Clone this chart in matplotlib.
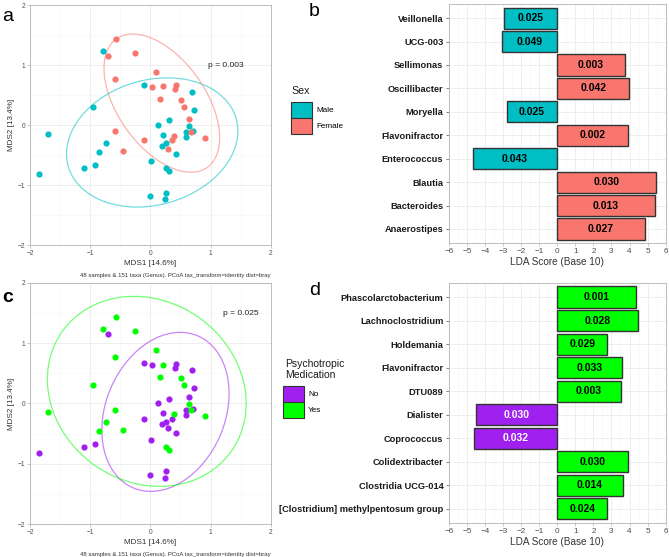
#%%
#PCoA ordination (bray) with group ellipses and LEfSe-style LDA bar charts
#panel a/b: Sex, panel c/d: Psychotropic Medication

import numpy as np
import matplotlib
matplotlib.use('Agg')
import matplotlib.pyplot as plt
from matplotlib.patches import Patch, Ellipse

#sample coordinates on MDS1 / MDS2
mds1 = [-0.79, -0.105, 0.687, -0.953, 0.731, 0.316, 0.122, 0.637, -1.706, 0.598,
        0.715, 0.598, 0.205, -0.742, 0.255, 0.194, -0.859, 0.421, 0.006, -0.925,
        -1.097, 0.255, 0.316, -1.845, -0.011, 0.255, 0.249,
        -0.576, -0.26, -0.698, 0.089, -0.593, 0.028, 0.216, 0.421, 0.416, 0.161,
        0.515, 0.560, 0.643, -0.593, 0.676, 0.914, 0.399, 0.355, -0.111, -0.454, 0.299]
mds2 = [1.235, 0.665, 0.554, 0.30, 0.255, 0.078, 0.0, -0.017, -0.144, -0.11,
        -0.094, -0.194, -0.166, -0.305, -0.305, -0.349, -0.449, -0.488, -0.604, -0.670,
        -0.720, -0.720, -0.765, -0.814, -1.186, -1.125, -1.235,
        1.435, 1.208, 1.147, 0.881, 0.770, 0.632, 0.643, 0.659, 0.593, 0.438,
        0.416, 0.305, 0.100, -0.105, -0.11, -0.216, -0.183, -0.25, -0.25, -0.438, -0.404]
sex = ['Male'] * 27 + ['Female'] * 21
medication = ['Yes', 'No', 'No', 'Yes', 'No', 'No', 'No', 'Yes', 'Yes', 'No',
              'No', 'No', 'No', 'Yes', 'No', 'No', 'Yes', 'No', 'No', 'No',
              'No', 'Yes', 'Yes', 'No', 'No', 'No', 'No',
              'Yes', 'Yes', 'No', 'Yes', 'Yes', 'No', 'Yes', 'No', 'No', 'Yes',
              'Yes', 'Yes', 'No', 'Yes', 'Yes', 'Yes', 'Yes', 'No', 'No', 'Yes', 'No']

#95% group ellipses: center x, center y, semi-major, semi-minor, angle (deg)
sexEllipses = {'Male': (0.03, -0.29, 1.45, 1.04, 16), 'Female': (0.19, 0.365, 1.31, 0.73, -55)}
medEllipses = {'No': (0.25, -0.14, 1.37, 0.99, 67), 'Yes': (-0.06, 0.20, 1.72, 1.50, -35)}

#LDA results, top to bottom
sexTaxa = ['Veillonella', 'UCG-003', 'Sellimonas', 'Oscillibacter', 'Moryella',
           'Flavonifractor', 'Enterococcus', 'Blautia', 'Bacteroides', 'Anaerostipes']
sexLDA = [-2.94, -3.05, 3.73, 3.97, -2.81, 3.89, -4.69, 5.48, 5.39, 4.84]
sexP = ['0.025', '0.049', '0.003', '0.042', '0.025', '0.002', '0.043', '0.030', '0.013', '0.027']

medTaxa = ['Phascolarctobacterium', 'Lachnoclostridium', 'Holdemania', 'Flavonifractor', 'DTU089',
           'Dialister', 'Coprococcus', 'Colidextribacter', 'Clostridia UCG-014',
           '[Clostridium] methylpentosum group']
medLDA = [4.37, 4.47, 2.77, 3.56, 3.51, -4.49, -4.60, 3.91, 3.62, 2.77]
medP = ['0.001', '0.028', '0.029', '0.033', '0.003', '0.030', '0.032', '0.030', '0.014', '0.024']

sexColors = {'Male': '#00BFC4', 'Female': '#F8766D'}
medColors = {'No': '#A020F0', 'Yes': '#00FF00'}

caption = '48 samples & 151 taxa (Genus). PCoA tax_transform=identity dist=bray'


def main():
    plt.rcParams['font.family'] = ['Liberation Sans', 'DejaVu Sans']
    fig = plt.figure(figsize=(6.69, 5.57), dpi=100)

    axA = fig.add_axes([0.0448, 0.560, 0.360, 0.431])
    axC = fig.add_axes([0.0448, 0.0592, 0.360, 0.433])
    axB = fig.add_axes([0.671, 0.5637, 0.324, 0.429])
    axD = fig.add_axes([0.671, 0.061, 0.324, 0.431])

    _ordination(axA, sex, sexColors, sexEllipses, ['Male', 'Female'], 'p = 0.003', (0.96, 1.0))
    _ordination(axC, medication, medColors, medEllipses, ['No', 'Yes'], 'p = 0.025', (1.2, 1.49))
    _ldabars(axB, sexTaxa, sexLDA, sexP, [sexColors['Male'] if v < 0 else sexColors['Female'] for v in sexLDA], 'black')
    _ldabars(axD, medTaxa, medLDA, medP, [medColors['No'] if v < 0 else medColors['Yes'] for v in medLDA], None)

    #legends (titles as separate text so the gap to the keys matches)
    fig.text(0.435, 0.8366, 'Sex', fontsize=7.7, va='center', ha='left', color='#1A1A1A')
    hs = [Patch(facecolor=sexColors[k], edgecolor='#333333', linewidth=0.8) for k in ['Male', 'Female']]
    fig.legend(hs, ['Male', 'Female'], loc='upper left', bbox_to_anchor=(0.435, 0.8169),
               frameon=False, fontsize=5.9, handlelength=2.6, handleheight=2.6,
               labelspacing=0.0, handletextpad=0.45, borderaxespad=0, borderpad=0)
    fig.text(0.426, 0.3366, 'Psychotropic\nMedication', fontsize=7.5, va='center', ha='left',
             color='#1A1A1A', linespacing=1.1)
    hm = [Patch(facecolor=medColors[k], edgecolor='#333333', linewidth=0.8) for k in ['No', 'Yes']]
    fig.legend(hm, ['No', 'Yes'], loc='upper left', bbox_to_anchor=(0.423, 0.307),
               frameon=False, fontsize=5.9, handlelength=2.6, handleheight=2.6,
               labelspacing=0.0, handletextpad=0.45, borderaxespad=0, borderpad=0)

    #panel letters
    fig.text(0.003, 0.985, 'a', fontsize=14, va='top')
    fig.text(0.462, 0.995, 'b', fontsize=14, va='top')
    fig.text(0.003, 0.482, 'c', fontsize=14, va='top', fontweight='bold')
    fig.text(0.462, 0.493, 'd', fontsize=14, va='top')

    fig.savefig('out.png', dpi=100)


def _ordination(ax, groups, colors, ellipses, order, ptext, ppos):
    x = np.array(mds1)
    y = np.array(mds2)
    g = np.array(groups)
    for k in order:
        m = g == k
        ax.scatter(x[m], y[m], s=20, color=colors[k], linewidths=0, zorder=3)
    for k in order:
        cx, cy, a, b, ang = ellipses[k]
        ax.add_patch(Ellipse((cx, cy), 2 * a, 2 * b, angle=ang, fill=False,
                             edgecolor=colors[k], linewidth=0.9, alpha=0.55, zorder=2))
    ax.text(ppos[0], ppos[1], ptext, fontsize=6, va='center', ha='left', color='#222222')
    ax.set_xlim(-2, 2)
    ax.set_ylim(-2, 2)
    ax.set_xticks([-2, -1, 0, 1, 2])
    ax.set_yticks([-2, -1, 0, 1, 2])
    ax.set_xticks([-1.5, -0.5, 0.5, 1.5], minor=True)
    ax.set_yticks([-1.5, -0.5, 0.5, 1.5], minor=True)
    ax.grid(which='major', color='#EBEBEB', linewidth=0.6, zorder=0)
    ax.grid(which='minor', color='#F5F5F5', linewidth=0.4, zorder=0)
    ax.set_axisbelow(True)
    ax.tick_params(which='major', labelsize=4.8, labelcolor='#4D4D4D', color='#B3B3B3', length=2, width=0.5, pad=1.5)
    ax.tick_params(which='minor', length=0)
    for s in ax.spines.values():
        s.set_color('#B3B3B3')
        s.set_linewidth(0.6)
    ax.set_xlabel('MDS1 [14.6%]', fontsize=5.9, color='#333333', labelpad=2)
    ax.set_ylabel('MDS2 [13.4%]', fontsize=5.9, color='#333333', labelpad=2)
    ax.text(1.0, -0.115, caption, transform=ax.transAxes, fontsize=4.3, ha='right', va='top', color='#333333')


def _ldabars(ax, taxa, lda, pvals, colors, txtcolor):
    pos = np.arange(len(taxa))[::-1]
    ax.barh(pos, lda, height=0.9, color=colors, edgecolor='#333333', linewidth=1.0, zorder=3)
    for p, v, t in zip(pos, lda, pvals):
        tc = txtcolor if txtcolor else ('white' if v < 0 else 'black')
        ax.text(v / 2, p, t, ha='center', va='center', fontsize=7.5, fontweight='bold', color=tc, zorder=4)
    ax.set_ylim(-0.6, len(taxa) - 0.4)
    ax.set_xlim(-6, 6)
    ax.set_yticks(pos)
    ax.set_yticklabels(taxa, fontweight='bold', fontsize=6.7)
    ax.set_xticks(range(-6, 7))
    ax.set_xticks(np.arange(-5.5, 6, 1), minor=True)
    ax.grid(which='major', color='#EBEBEB', linewidth=0.6, zorder=0)
    ax.grid(which='minor', axis='x', color='#F5F5F5', linewidth=0.4, zorder=0)
    ax.set_axisbelow(True)
    ax.tick_params(axis='x', which='major', labelsize=5.9, labelcolor='#4D4D4D', color='#B3B3B3', length=2, width=0.5, pad=1.5)
    ax.tick_params(axis='y', which='major', labelcolor='#1A1A1A', color='#4D4D4D', length=2, width=0.5, pad=2)
    ax.tick_params(which='minor', length=0)
    for s in ax.spines.values():
        s.set_color('#B3B3B3')
        s.set_linewidth(0.6)
    ax.set_xlabel('LDA Score (Base 10)', fontsize=7.2, color='#333333', labelpad=1.5)


if __name__:
    main()
